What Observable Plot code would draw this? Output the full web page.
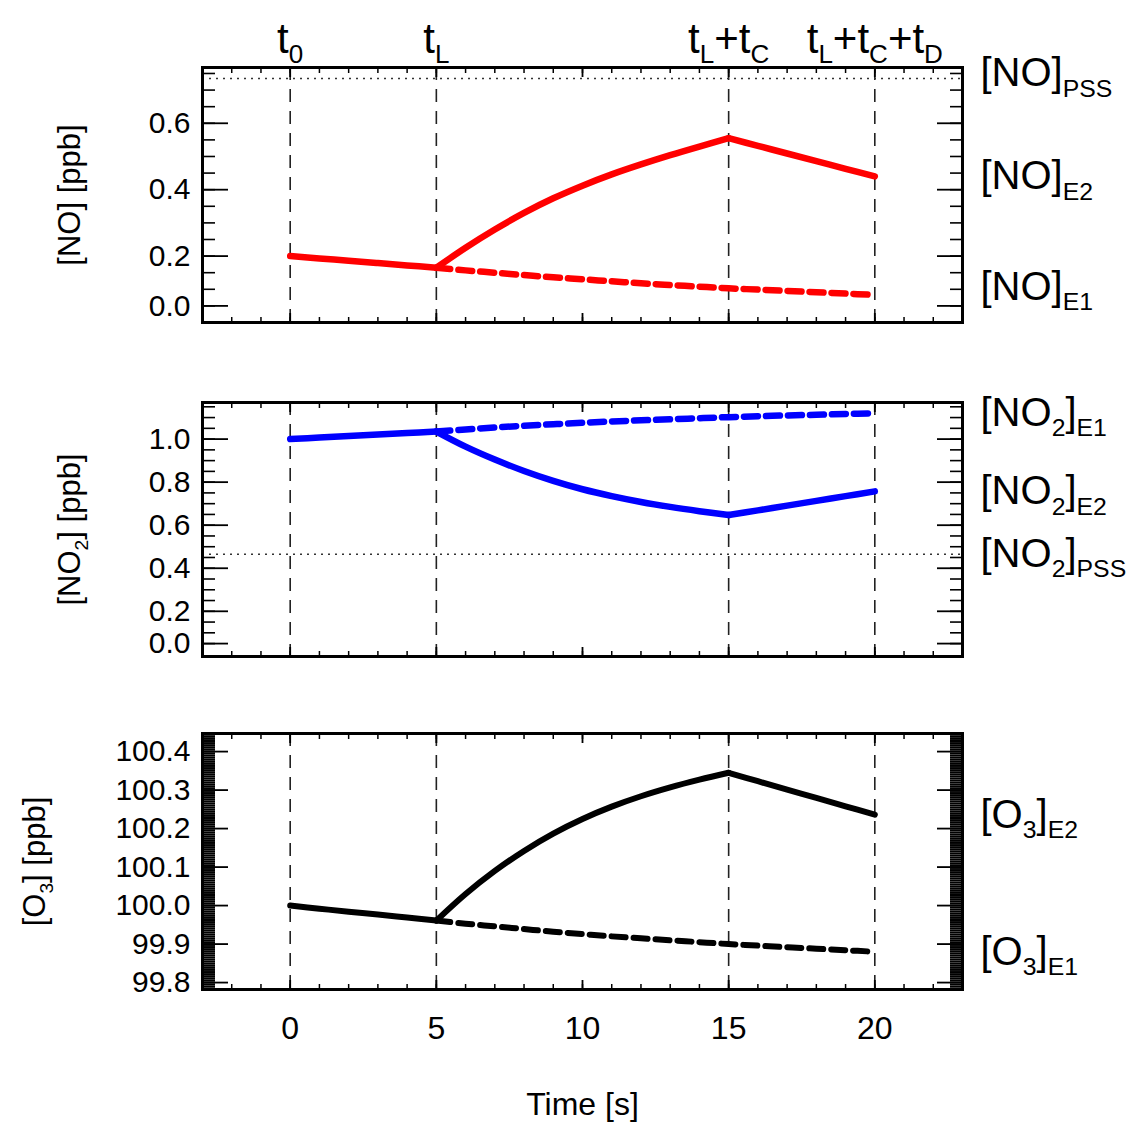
<!DOCTYPE html>
<html><head><meta charset="utf-8">
<script src="https://cdn.jsdelivr.net/npm/d3@7"></script>
<script src="https://cdn.jsdelivr.net/npm/@observablehq/plot@0.6"></script>
<style>
html,body{margin:0;padding:0;background:#fff;}
#chart svg{display:block;}
</style></head><body><div id="chart"></div>
<script>
// ---------- data ----------
const timesAll = [0,1,2,3,4,5,6,7,8,9,10,11,12,13,14,15,16,17,18,19,20];
const timesE1 = [5,6,7,8,9,10,11,12,13,14,15,16,17,18,19,20];
const markerTimes = [0, 5, 15, 20];
const markerLabels = ["t_{0}", "t_{L}", "t_{L}+t_{C}", "t_{L}+t_{C}+t_{D}"];
const phaseBreaks = [5, 15];
const xTickLabels = [0, 5, 10, 15, 20];

// NO [ppb]
const noE2 = [0.200,0.193,0.186,0.179,0.172,0.165,0.225,0.280,0.330,0.374,0.412,0.446,0.476,0.504,0.530,0.555,0.532,0.509,0.486,0.463,0.440];
const noE1 = [0.165,0.157,0.150,0.143,0.136,0.130,0.124,0.118,0.113,0.108,0.103,0.099,0.095,0.091,0.087,0.083];
const noPss = 0.735;
const noTickValues = [0.05, 0.2, 0.4, 0.6];
const noTickLabels = ["0.0", "0.2", "0.4", "0.6"];

// NO2 [ppb]
const no2E2 = [1.000,1.007,1.014,1.021,1.028,1.035,0.965,0.905,0.852,0.806,0.767,0.735,0.708,0.685,0.665,0.647,0.669,0.691,0.713,0.735,0.757];
const no2E1 = [1.035,1.045,1.054,1.062,1.069,1.076,1.082,1.087,1.092,1.097,1.102,1.106,1.110,1.113,1.117,1.120];
const no2Pss = 0.465;
const no2TickValues = [0.05, 0.2, 0.4, 0.6, 0.8, 1.0];
const no2TickLabels = ["0.0", "0.2", "0.4", "0.6", "0.8", "1.0"];

// O3 [ppb]
const o3E2 = [100.000,99.992,99.984,99.977,99.969,99.961,100.030,100.090,100.142,100.187,100.225,100.257,100.284,100.307,100.327,100.345,100.323,100.301,100.280,100.258,100.236];
const o3E1 = [99.961,99.953,99.946,99.939,99.932,99.926,99.920,99.915,99.910,99.905,99.900,99.896,99.892,99.888,99.884,99.880];
const o3TickValues = [99.8, 99.9, 100.0, 100.1, 100.2, 100.3, 100.4];
const o3TickLabels = ["99.8", "99.9", "100.0", "100.1", "100.2", "100.3", "100.4"];

// ---------- helpers ----------
const FONT = "'Liberation Sans', Arial, Helvetica, sans-serif";
const xMinor = d3.range(-3, 24, 1);
const toRows = (ts, vs) => ts.map((t, i) => ({t, v: vs[i]}));
// split a series into phases (shared points at phase breaks) so kinks stay sharp
function toPhaseRows(ts, vs) {
  const rows = [];
  ts.forEach((t, i) => {
    let seg = 0;
    for (const b of phaseBreaks) if (t > b) seg++;
    rows.push({t, v: vs[i], seg});
    if (phaseBreaks.includes(t)) rows.push({t, v: vs[i], seg: seg + 1});
  });
  return rows;
}

function panel(o) {
  const marks = [
    Plot.ruleX(markerTimes, {stroke: "#222", strokeWidth: 1.6, strokeDasharray: "13,9"}),
    o.pss != null ? Plot.ruleY([o.pss], {stroke: "#333", strokeWidth: 1.6, strokeDasharray: "2,5"}) : null,
    Plot.line(toRows(timesE1, o.e1), {x: "t", y: "v", stroke: o.color, strokeWidth: o.sw, strokeDasharray: "14,8", curve: "catmull-rom"}),
    Plot.line(toPhaseRows(timesAll, o.e2), {x: "t", y: "v", z: "seg", stroke: o.color, strokeWidth: o.sw, strokeLinejoin: "round", strokeLinecap: "round", curve: "catmull-rom"}),
    Plot.frame({stroke: "black", strokeWidth: 3}),
  ];
  for (const a of ["top", "bottom"]) {
    marks.push(Plot.axisX(xMinor, {anchor: a, tickSize: -5, tickFormat: () => "", label: null, strokeWidth: 1.5}));
    marks.push(Plot.axisX(xTickLabels, {anchor: a, tickSize: -9, tickFormat: () => "", label: null, strokeWidth: 1.8}));
  }
  for (const a of ["left", "right"]) {
    marks.push(Plot.axisY(o.yMinor, {anchor: a, tickSize: -o.minorLen, tickFormat: () => "", label: null, strokeWidth: o.minorW}));
    marks.push(Plot.axisY(o.yMajor, {anchor: a, tickSize: -26, tickFormat: () => "", label: null, strokeWidth: 1.8}));
  }
  marks.push(Plot.axisY(o.yMajor, {anchor: "left", tickSize: 0, tickPadding: 12, label: null, fontSize: 30,
    tickFormat: d => o.yLabels[o.yMajor.indexOf(d)]}));
  marks.push(Plot.text([o.title], {frameAnchor: "left", dx: o.titleDx, rotate: -90, text: d => d, fontSize: 31,
    textAnchor: "middle", lineAnchor: "middle"}));
  for (const L of o.right) {
    marks.push(Plot.text([L.v], {y: d => d, text: () => L.text, frameAnchor: "right", dx: 18, dy: L.dy || 0,
      textAnchor: "start", lineAnchor: "middle", fontSize: 40}));
  }
  if (o.extra) marks.push(...o.extra);
  return Plot.plot({
    width: 1128, height: o.height,
    marginLeft: 202, marginRight: 166, marginTop: o.mt, marginBottom: o.mb,
    x: {domain: [-3, 23]},
    y: {domain: o.yDomain},
    style: {fontFamily: FONT, fontSize: "32px", background: "white", color: "black", overflow: "visible"},
    marks
  });
}

function applySubscripts(svg) {
  d3.select(svg).selectAll("text").each(function() {
    const s = this.textContent;
    if (!s.includes("_{")) return;
    const fs = parseFloat(getComputedStyle(this).fontSize);
    const subSize = fs * 0.62;
    const shift = fs * 0.26;
    const parts = s.split(/(_\{[^}]*\})/).filter(p => p !== "");
    const el = d3.select(this);
    el.text(null);
    let lowered = false;
    for (const p of parts) {
      const m = p.match(/^_\{(.*)\}$/);
      if (m) {
        el.append("tspan").attr("font-size", subSize).attr("dy", lowered ? 0 : shift).text(m[1]);
        lowered = true;
      } else {
        el.append("tspan").attr("dy", lowered ? -shift : 0).text(p);
        lowered = false;
      }
    }
  });
}

// ---------- panels ----------
const p1 = panel({
  height: 360, mt: 67, mb: 38, yDomain: [0, 0.768],
  e2: noE2, e1: noE1, pss: noPss, color: "#ff0000", sw: 6.5,
  yMajor: noTickValues, yLabels: noTickLabels, yMinor: d3.range(0.05, 0.76, 0.05), minorLen: 13, minorW: 1.6,
  title: "[NO] [ppb]", titleDx: -132,
  right: [
    {v: noPss, text: "[NO]_{PSS}", dy: -5},
    {v: noE2[noE2.length - 1], text: "[NO]_{E2}"},
    {v: noE1[noE1.length - 1], text: "[NO]_{E1}", dy: -8}
  ],
  extra: [Plot.text(markerTimes, {x: d => d, text: (d, i) => markerLabels[i], frameAnchor: "top", dy: -15, lineAnchor: "bottom", fontSize: 42})]
});

const p2 = panel({
  height: 340, mt: 42, mb: 44, yDomain: [-0.01, 1.17],
  e2: no2E2, e1: no2E1, pss: no2Pss, color: "#0000ff", sw: 6.5,
  yMajor: no2TickValues, yLabels: no2TickLabels, yMinor: d3.range(0.05, 1.16, 0.05), minorLen: 13, minorW: 1.6,
  title: "[NO_{2}] [ppb]", titleDx: -132,
  right: [
    {v: no2E1[no2E1.length - 1], text: "[NO_{2}]_{E1}"},
    {v: no2E2[no2E2.length - 1], text: "[NO_{2}]_{E2}"},
    {v: no2Pss, text: "[NO_{2}]_{PSS}"}
  ]
});

const p3 = panel({
  height: 425, mt: 33, mb: 136, yDomain: [99.782, 100.447],
  e2: o3E2, e1: o3E1, pss: null, color: "#000000", sw: 6,
  yMajor: o3TickValues, yLabels: o3TickLabels, yMinor: d3.range(99.785, 100.446, 0.005), minorLen: 13, minorW: 1.9,
  title: "[O_{3}] [ppb]", titleDx: -167,
  right: [
    {v: o3E2[o3E2.length - 1], text: "[O_{3}]_{E2}"},
    {v: o3E1[o3E1.length - 1], text: "[O_{3}]_{E1}"}
  ],
  extra: [
    Plot.axisX(xTickLabels, {anchor: "bottom", tickSize: 0, tickPadding: 27, label: null}),
    Plot.text(["Time [s]"], {frameAnchor: "bottom", dy: 115, text: d => d, lineAnchor: "middle", fontSize: 32})
  ]
});

const host = document.getElementById("chart");
for (const p of [p1, p2, p3]) { host.appendChild(p); applySubscripts(p); }
</script></body></html>
